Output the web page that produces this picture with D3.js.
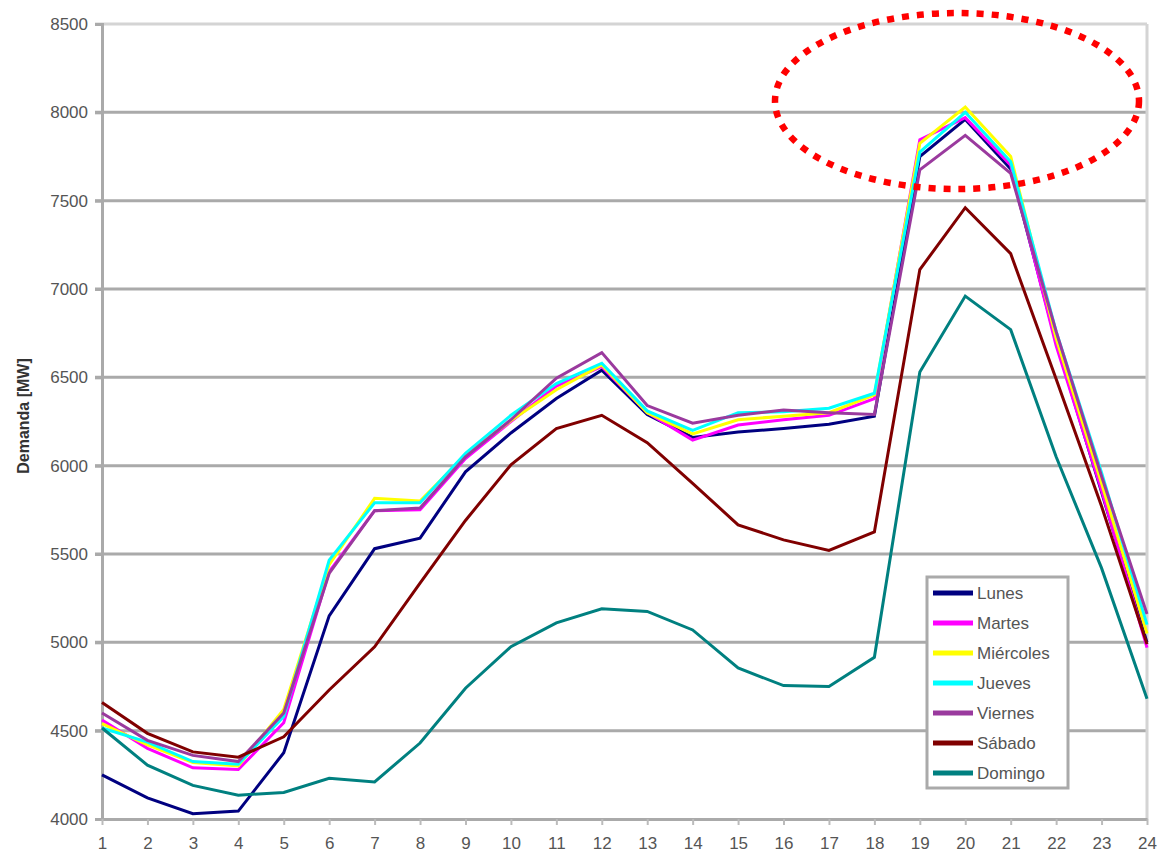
<!DOCTYPE html>
<html>
<head>
<meta charset="utf-8">
<script src="https://cdn.jsdelivr.net/npm/d3@7"></script>
<style>
  html, body { margin: 0; padding: 0; background: #fff; }
  text { font-family: "Liberation Sans", Arial, sans-serif; }
</style>
</head>
<body>
<div id="chart"></div>
<script>
const hours = d3.range(1, 25);
const yTicks = [4000, 4500, 5000, 5500, 6000, 6500, 7000, 7500, 8000, 8500];
const seriesNames = ["Lunes", "Martes", "Miércoles", "Jueves", "Viernes", "Sábado", "Domingo"];
const seriesColors = ["#000080", "#ff00ff", "#ffff00", "#00ffff", "#9a3a9e", "#800000", "#008080"];

const lunes     = [4250, 4120, 4030, 4045, 4375, 5150, 5530, 5590, 5965, 6185, 6380, 6540, 6290, 6160, 6190, 6210, 6235, 6280, 7750, 7960, 7680, 6700, 5850, 5000];
const martes    = [4560, 4400, 4290, 4280, 4545, 5400, 5745, 5750, 6040, 6250, 6450, 6560, 6300, 6145, 6230, 6260, 6285, 6380, 7845, 7970, 7700, 6680, 5860, 4970];
const miercoles = [4540, 4420, 4320, 4300, 4620, 5440, 5815, 5800, 6060, 6255, 6430, 6570, 6300, 6180, 6260, 6280, 6300, 6400, 7825, 8030, 7750, 6720, 5900, 5050];
const jueves    = [4515, 4435, 4325, 4310, 4580, 5465, 5790, 5790, 6070, 6285, 6465, 6580, 6310, 6200, 6300, 6305, 6325, 6410, 7775, 8000, 7720, 6760, 5960, 5100];
const viernes   = [4600, 4445, 4360, 4325, 4600, 5390, 5745, 5760, 6050, 6260, 6495, 6640, 6340, 6240, 6285, 6315, 6300, 6290, 7675, 7870, 7655, 6760, 5940, 5160];
const sabado    = [4660, 4485, 4380, 4350, 4465, 4730, 4975, 5335, 5690, 6005, 6210, 6285, 6130, 5900, 5665, 5580, 5520, 5625, 7110, 7460, 7200, 6490, 5770, 4990];
const domingo   = [4515, 4305, 4190, 4135, 4150, 4230, 4210, 4430, 4740, 4975, 5110, 5190, 5175, 5070, 4855, 4755, 4750, 4915, 6530, 6960, 6770, 6050, 5420, 4680];

const allSeries = [lunes, martes, miercoles, jueves, viernes, sabado, domingo];

const W = 1161, H = 856;
const svg = d3.select("#chart").append("svg")
  .attr("width", W).attr("height", H);

const x = d3.scalePoint().domain(hours).range([102, 1147]);
const y = d3.scaleLinear().domain([4000, 8500]).range([819, 24]);

const gridColor = "#aaaaaa";

// gridlines
svg.append("g")
  .selectAll("line")
  .data(yTicks.filter(d => d > 4000))
  .join("line")
  .attr("x1", 95).attr("x2", 1147)
  .attr("y1", d => y(d)).attr("y2", d => y(d))
  .attr("stroke", d => d === 8500 ? "#d4d4d4" : gridColor)
  .attr("stroke-width", 3);

// borde derecho del area de trazado
svg.append("line")
  .attr("x1", 1147).attr("x2", 1147)
  .attr("y1", y(8500)).attr("y2", y(4000))
  .attr("stroke", "#d4d4d4").attr("stroke-width", 3);

// Eje Y
const yAxis = svg.append("g")
  .attr("transform", "translate(102,0)")
  .call(d3.axisLeft(y).tickValues(yTicks).tickSize(7).tickPadding(7).tickFormat(d3.format("d")));
yAxis.select(".domain").attr("stroke", gridColor).attr("stroke-width", 3);
yAxis.selectAll(".tick line").attr("stroke", gridColor).attr("stroke-width", 3);
yAxis.selectAll(".tick text")
  .attr("fill", "#555").style("font-size", "17px")
  .style("font-family", "'Liberation Sans', Arial, sans-serif");

// Eje X
const xAxis = svg.append("g")
  .attr("transform", `translate(0,${y(4000)})`)
  .call(d3.axisBottom(x).tickSize(6).tickPadding(12).tickSizeOuter(0));
xAxis.select(".domain").attr("stroke", gridColor).attr("stroke-width", 3);
xAxis.selectAll(".tick line").attr("stroke", "#bbbbbb").attr("stroke-width", 2);
xAxis.selectAll(".tick text")
  .attr("fill", "#555").style("font-size", "17px")
  .style("font-family", "'Liberation Sans', Arial, sans-serif");

// titulo eje Y
svg.append("text")
  .attr("transform", `translate(29,${(350 + 482) / 2}) rotate(-90)`)
  .attr("text-anchor", "middle")
  .attr("fill", "#333")
  .style("font-size", "16px")
  .style("font-weight", "bold")
  .text("Demanda [MW]");

// lineas
const line = d3.line()
  .x((d, i) => x(hours[i]))
  .y(d => y(d));

svg.append("g")
  .selectAll("path")
  .data(allSeries)
  .join("path")
  .attr("d", d => line(d))
  .attr("fill", "none")
  .attr("stroke", (d, i) => seriesColors[i])
  .attr("stroke-width", 3)
  .attr("stroke-linejoin", "miter");

// leyenda
const legend = svg.append("g");
legend.append("rect")
  .attr("x", 927).attr("y", 577)
  .attr("width", 141).attr("height", 211)
  .attr("fill", "#fff")
  .attr("stroke", gridColor).attr("stroke-width", 3);

const item = legend.selectAll("g.item")
  .data(seriesNames)
  .join("g")
  .attr("class", "item")
  .attr("transform", (d, i) => `translate(933,${593 + i * 30})`);

item.append("line")
  .attr("x1", 0).attr("x2", 40)
  .attr("stroke", (d, i) => seriesColors[i])
  .attr("stroke-width", 5);

item.append("text")
  .attr("x", 44).attr("dy", "0.35em")
  .attr("fill", "#555")
  .style("font-size", "17px")
  .text(d => d);

// elipse punteada roja
svg.append("ellipse")
  .attr("cx", 957).attr("cy", 101)
  .attr("rx", 182).attr("ry", 88)
  .attr("fill", "none")
  .attr("stroke", "#ff0000")
  .attr("stroke-width", 6.5)
  .attr("stroke-dasharray", "7,8");
</script>
</body>
</html>
